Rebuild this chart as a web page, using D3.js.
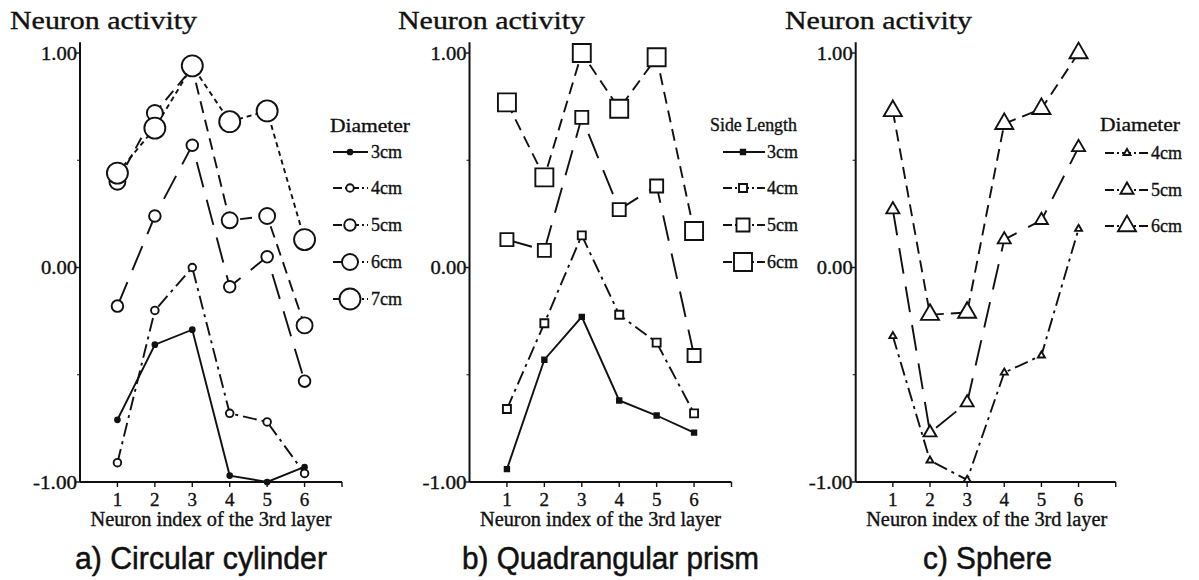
<!DOCTYPE html>
<html><head><meta charset="utf-8">
<script src="https://cdn.jsdelivr.net/npm/d3@7"></script>
<style>body{margin:0;background:#fff}svg{display:block}</style>
</head><body><svg id="c" width="1199" height="580"></svg>
<script>
// ---------- data ----------
const neuronIndex = [1, 2, 3, 4, 5, 6];
const yTickValues = [-1, 0, 1];
const yTickLabels = ["-1.00", "0.00", "1.00"];
const yMinorTicks = [-0.5, 0.5];

// a) Circular cylinder (diameter)
const cylSizes = ["3cm", "4cm", "5cm", "6cm", "7cm"];
const cyl3cm = [-0.71, -0.36, -0.29, -0.97, -1.00, -0.93];
const cyl4cm = [-0.91, -0.20, 0.00, -0.68, -0.72, -0.96];
const cyl5cm = [-0.18, 0.24, 0.57, -0.09, 0.05, -0.53];
const cyl6cm = [0.40, 0.72, 0.93, 0.22, 0.24, -0.27];
const cyl7cm = [0.44, 0.65, 0.94, 0.68, 0.73, 0.13];

// b) Quadrangular prism (side length)
const prismSizes = ["3cm", "4cm", "5cm", "6cm"];
const prism3cm = [-0.94, -0.43, -0.23, -0.62, -0.69, -0.77];
const prism4cm = [-0.66, -0.26, 0.15, -0.22, -0.35, -0.68];
const prism5cm = [0.13, 0.08, 0.70, 0.27, 0.38, -0.41];
const prism6cm = [0.77, 0.42, 1.00, 0.74, 0.98, 0.17];

// c) Sphere (diameter)
const sphereSizes = ["4cm", "5cm", "6cm"];
const sphere4cm = [-0.32, -0.90, -0.99, -0.49, -0.41, 0.18];
const sphere5cm = [0.27, -0.77, -0.63, 0.13, 0.22, 0.56];
const sphere6cm = [0.73, -0.22, -0.21, 0.67, 0.74, 1.00];

const yTitle = "Neuron activity";
const xTitle = "Neuron index of the 3rd layer";

// ---------- styles ----------
const dashBySize = {"3cm": null, "4cm": "14,5,3,5", "5cm": "26,13", "6cm": "12,7", "7cm": "5,4"};
const circleR = {"3cm": 2.4, "4cm": 3.8, "5cm": 5.8, "6cm": 8, "7cm": 10.5};
const squareSide = {"3cm": 4.5, "4cm": 8, "5cm": 13, "6cm": 18};
const triSide = {"4cm": 7, "5cm": 13, "6cm": 18};

const SERIF = "'Liberation Serif','Times New Roman',Times,serif";
const SANS = "'Liberation Sans',Arial,Helvetica,sans-serif";
const INK = "#111";

const svg = d3.select("#c");
const yScale = d3.scaleLinear().domain([-1, 1]).range([482, 53]);

function text(g, x, y, s, o) {
  const t = g.append("text").attr("x", x).attr("y", y).text(s)
    .attr("font-family", o.family || SERIF).attr("font-size", o.size)
    .attr("text-anchor", o.anchor || "start").attr("fill", INK)
    .attr("stroke", INK).attr("stroke-width", o.bold || 0.35);
  if (o.len) t.attr("textLength", o.len).attr("lengthAdjust", "spacingAndGlyphs");
  return t;
}

function symbolFor(shape, size) {
  if (shape === "circle") { const r = circleR[size]; return d3.symbol(d3.symbolCircle, Math.PI * r * r)(); }
  if (shape === "square") { const s = squareSide[size]; return d3.symbol(d3.symbolSquare, s * s)(); }
  const s = triSide[size]; return d3.symbol(d3.symbolTriangle, s * s * Math.sqrt(3) / 4)();
}

const panels = [
  {axisX: 80, width: 262, shape: "circle", sizes: cylSizes,
   series: [cyl3cm, cyl4cm, cyl5cm, cyl6cm, cyl7cm],
   titleX: 10, legendTitle: "Diameter", legendTitleX: 330, legendTitleLen: 80, legendTitleY: 132,
   legendLineX: [333, 368], legendMarkX: 350, legendTextX: 371, legendRows: [152, 188, 225, 262, 299],
   caption: "a) Circular  cylinder", captionX: 75, captionLen: 252},
  {axisX: 469.5, width: 262, shape: "square", sizes: prismSizes,
   series: [prism3cm, prism4cm, prism5cm, prism6cm],
   titleX: 398, legendTitle: "Side Length", legendTitleX: 710, legendTitleLen: 87, legendTitleY: 131,
   legendLineX: [723, 765], legendMarkX: 743, legendTextX: 767, legendRows: [152, 188, 225, 262],
   caption: "b) Quadrangular prism", captionX: 462, captionLen: 297},
  {axisX: 855.7, width: 260, shape: "triangle", sizes: sphereSizes,
   series: [sphere4cm, sphere5cm, sphere6cm],
   titleX: 785, legendTitle: "Diameter", legendTitleX: 1100, legendTitleLen: 80, legendTitleY: 131,
   legendLineX: [1105, 1148], legendMarkX: 1127, legendTextX: 1151, legendRows: [153, 190, 226],
   caption: "c) Sphere", captionX: 923, captionLen: 129}
];

panels.forEach(p => {
  const g = svg.append("g");
  const x = d3.scaleLinear().domain([0, 7]).range([p.axisX, p.axisX + p.width]);

  text(g, p.titleX, 29, yTitle, {size: 25, len: 187});

  g.append("line").attr("x1", p.axisX).attr("x2", p.axisX)
    .attr("y1", yScale(1.05)).attr("y2", yScale(-1)).attr("stroke", INK).attr("stroke-width", 2);
  g.append("line").attr("x1", p.axisX).attr("x2", x(7))
    .attr("y1", yScale(-1)).attr("y2", yScale(-1)).attr("stroke", INK).attr("stroke-width", 2);

  yTickValues.forEach((v, i) => {
    g.append("line").attr("x1", p.axisX - 4).attr("x2", p.axisX)
      .attr("y1", yScale(v)).attr("y2", yScale(v)).attr("stroke", INK).attr("stroke-width", 1.4);
    text(g, p.axisX - 3, yScale(v) + 6.5, yTickLabels[i], {size: 19, anchor: "end", len: yTickLabels[i].length > 4 ? 44 : 36});
  });
  yMinorTicks.forEach(v => {
    g.append("line").attr("x1", p.axisX - 3).attr("x2", p.axisX)
      .attr("y1", yScale(v)).attr("y2", yScale(v)).attr("stroke", INK).attr("stroke-width", 1);
  });

  neuronIndex.concat([7]).forEach(i => {
    g.append("line").attr("x1", x(i)).attr("x2", x(i))
      .attr("y1", yScale(-1)).attr("y2", yScale(-1) + 5).attr("stroke", INK).attr("stroke-width", 1.4);
  });
  neuronIndex.forEach(i => text(g, x(i), 506, String(i), {size: 19, anchor: "middle"}));

  text(g, p.axisX + 131, 526, xTitle, {size: 20, anchor: "middle", len: 241});
  text(g, p.captionX, 569, p.caption, {size: 31, family: SANS, len: p.captionLen, bold: 0.5});

  const line = d3.line().x((d, i) => x(neuronIndex[i])).y(d => yScale(d));
  p.series.forEach((vals, k) => {
    const size = p.sizes[k];
    g.append("path").attr("d", line(vals)).attr("fill", "none")
      .attr("stroke", INK).attr("stroke-width", 1.9)
      .attr("stroke-dasharray", dashBySize[size]);
  });
  p.series.forEach((vals, k) => {
    const size = p.sizes[k];
    const filled = size === "3cm";
    g.selectAll(null).data(vals).join("path")
      .attr("transform", (d, i) => `translate(${x(neuronIndex[i])},${yScale(d)})`)
      .attr("d", symbolFor(p.shape, size))
      .attr("fill", filled ? INK : "#fff").attr("stroke", INK).attr("stroke-width", 1.9);
  });

  text(g, p.legendTitleX, p.legendTitleY, p.legendTitle, {size: 19, len: p.legendTitleLen});
  p.sizes.forEach((size, k) => {
    const ly = p.legendRows[k];
    g.append("line").attr("x1", p.legendLineX[0]).attr("x2", p.legendLineX[1])
      .attr("y1", ly).attr("y2", ly).attr("stroke", INK).attr("stroke-width", 1.9)
      .attr("stroke-dasharray", dashBySize[size] ? "9,3,2,3" : null);
    g.append("path").attr("transform", `translate(${p.legendMarkX},${ly})`)
      .attr("d", symbolFor(p.shape, size))
      .attr("fill", size === "3cm" ? INK : "#fff").attr("stroke", INK).attr("stroke-width", 1.9);
    text(g, p.legendTextX, ly + 6, size, {size: 18});
  });
});
</script></body></html>
